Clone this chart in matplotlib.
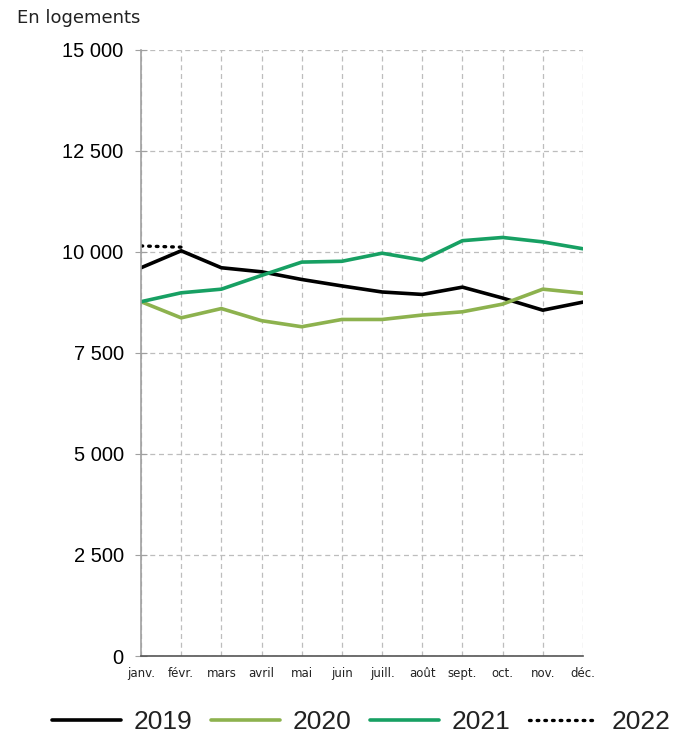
import matplotlib.pyplot as plt
from matplotlib.ticker import FuncFormatter

mois = ['janv.', 'févr.', 'mars', 'avril', 'mai', 'juin', 'juill.', 'août', 'sept.', 'oct.', 'nov.', 'déc.']
v2019 = [9610, 10030, 9610, 9510, 9320, 9160, 9010, 8950, 9130, 8860, 8560, 8760]
v2020 = [8770, 8370, 8600, 8300, 8150, 8330, 8330, 8440, 8520, 8710, 9080, 8980]
v2021 = [8770, 8990, 9080, 9420, 9750, 9770, 9970, 9800, 10280, 10360, 10250, 10080]
v2022 = [10150, 10120]

fig = plt.figure(figsize=(6.75, 7.42), dpi=100)
ax = fig.add_axes([141/675, 1-656/742, (583-141)/675, (656-50)/742])

x = range(len(mois))
l1, = ax.plot(x, v2019, color='black', lw=2.6, label='2019', solid_capstyle='round')
l2, = ax.plot(x, v2020, color='#8db24e', lw=2.6, label='2020', solid_capstyle='round')
l3, = ax.plot(x, v2021, color='#17a063', lw=2.6, label='2021', solid_capstyle='round')
l4, = ax.plot(range(len(v2022)), v2022, color='black', lw=2.4, ls=(0, (0.5, 1.8)),
              dash_capstyle='round', label='2022')

ax.set_xlim(0, 11)
ax.set_ylim(0, 15000)
ax.set_yticks(range(0, 15001, 2500))
ax.yaxis.set_major_formatter(FuncFormatter(lambda v, p: f'{int(v):,}'.replace(',', ' ')))
ax.set_xticks(list(x))
ax.set_xticklabels(mois)

ax.grid(True, ls=(0, (4, 3)), color='#bdbdbd', lw=0.9)
ax.set_axisbelow(True)
for s in ['top', 'right']:
    ax.spines[s].set_visible(False)
ax.spines['left'].set_color('#a0a0a0')
ax.spines['left'].set_linewidth(1.2)
ax.spines['bottom'].set_color('#555555')
ax.spines['bottom'].set_linewidth(1.2)
ax.tick_params(axis='y', direction='inout', length=9, color='#a0a0a0', labelsize=14.5, pad=8)
ax.tick_params(axis='x', length=0, labelsize=8.5, pad=8, labelcolor='#222222')
for t in ax.get_yticklabels():
    t.set_family('Liberation Sans')

fig.text(17/675, 1-18/742, 'En logements', fontsize=13, va='center', ha='left', color='#222222')

leg = fig.legend(handles=[l1, l2, l3, l4], loc='center', bbox_to_anchor=(0.535, 1-722/742),
                 ncol=4, frameon=False, handlelength=2.6, columnspacing=0.7,
                 handletextpad=0.5, prop={'family': 'Liberation Sans', 'size': 19})
for t in leg.get_texts():
    t.set_color('#222222')

fig.savefig('out.png', dpi=100)
